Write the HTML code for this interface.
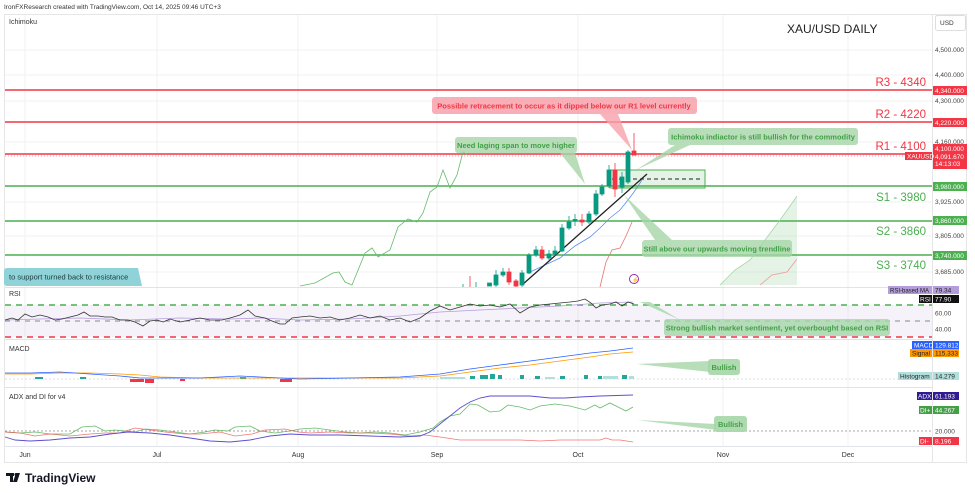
<!DOCTYPE html>
<html><head><meta charset="utf-8"><style>
html,body{margin:0;padding:0;background:#fff;}
svg{display:block;font-family:"Liberation Sans",sans-serif;}
</style></head><body>
<svg width="975" height="493" viewBox="0 0 975 493" xmlns="http://www.w3.org/2000/svg">
<rect width="975" height="493" fill="#fff"/>
<text x="4" y="9" font-size="6.5" fill="#333">IronFXResearch created with TradingView.com, Oct 14, 2025 09:46 UTC+3</text>
<rect x="4.5" y="14.5" width="962" height="448" fill="none" stroke="#e6e6e6"/>
<line x1="932.5" y1="14" x2="932.5" y2="462" stroke="#e6e6e6"/>
<g stroke="#f2f2f2" stroke-width="1">
<line x1="25" y1="15" x2="25" y2="446"/><line x1="157" y1="15" x2="157" y2="446"/>
<line x1="298" y1="15" x2="298" y2="446"/><line x1="437" y1="15" x2="437" y2="446"/>
<line x1="578" y1="15" x2="578" y2="446"/><line x1="723" y1="15" x2="723" y2="446"/>
<line x1="848" y1="15" x2="848" y2="446"/>
<line x1="5" y1="50" x2="932" y2="50"/><line x1="5" y1="75" x2="932" y2="75"/>
<line x1="5" y1="101" x2="932" y2="101"/><line x1="5" y1="142" x2="932" y2="142"/>
<line x1="5" y1="202" x2="932" y2="202"/><line x1="5" y1="236" x2="932" y2="236"/>
<line x1="5" y1="272" x2="932" y2="272"/>
</g>
<line x1="5" y1="287.5" x2="932" y2="287.5" stroke="#e0e3eb"/>
<line x1="5" y1="339.5" x2="932" y2="339.5" stroke="#e0e3eb"/>
<line x1="5" y1="387.5" x2="932" y2="387.5" stroke="#e0e3eb"/>
<line x1="5" y1="446.5" x2="932" y2="446.5" stroke="#e0e3eb"/>
<text x="9" y="24" font-size="7" fill="#333">Ichimoku</text>
<text x="787" y="33" font-size="12" fill="#222">XAU/USD DAILY</text>
<rect x="935.5" y="15.5" width="30" height="15" fill="#fff" stroke="#ddd" rx="2"/>
<text x="940" y="25" font-size="6.5" fill="#333">USD</text>
<g font-size="6.5" fill="#444">
<text x="935" y="52">4,500.000</text><text x="935" y="77">4,400.000</text>
<text x="935" y="103">4,300.000</text><text x="935" y="144">4,160.000</text>
<text x="935" y="204">3,925.000</text><text x="935" y="238">3,805.000</text>
<text x="935" y="274">3,685.000</text>
</g>
<g stroke-width="1.5">
<line x1="5" y1="90" x2="932" y2="90" stroke="#f23645"/>
<line x1="5" y1="122" x2="932" y2="122" stroke="#f23645"/>
<line x1="5" y1="154" x2="932" y2="154" stroke="#f23645"/>
<line x1="5" y1="186" x2="932" y2="186" stroke="#4caf50"/>
<line x1="5" y1="221" x2="932" y2="221" stroke="#4caf50"/>
<line x1="5" y1="255" x2="932" y2="255" stroke="#4caf50"/>
</g>
<line x1="5" y1="156" x2="932" y2="156" stroke="#f23645" stroke-dasharray="1 2" stroke-width="0.6"/>
<g font-size="11.5" text-anchor="end">
<text x="926" y="86" fill="#f23645">R3 - 4340</text>
<text x="926" y="118" fill="#f23645">R2 - 4220</text>
<text x="926" y="150" fill="#f23645">R1 - 4100</text>
<text x="926" y="201" fill="#4caf50">S1 - 3980</text>
<text x="926" y="235" fill="#4caf50">S2 - 3860</text>
<text x="926" y="269" fill="#4caf50">S3 - 3740</text>
</g>
<g font-size="6.5" fill="#fff">
<rect x="933" y="86" width="34" height="9" fill="#f23645"/><text x="935" y="93">4,340.000</text>
<rect x="933" y="118" width="34" height="9" fill="#f23645"/><text x="935" y="125">4,220.000</text>
<rect x="933" y="144" width="34" height="25" fill="#f23645"/><text x="935" y="151">4,100.000</text><text x="935" y="159">4,091.670</text><text x="935" y="166">14:13:03</text>
<rect x="905" y="152" width="27" height="8" fill="#f23645"/><text x="907" y="158.5">XAUUSD</text>
<rect x="933" y="182" width="34" height="9" fill="#4caf50"/><text x="935" y="189">3,980.000</text>
<rect x="933" y="216" width="34" height="9" fill="#4caf50"/><text x="935" y="223">3,860.000</text>
<rect x="933" y="251" width="34" height="9" fill="#4caf50"/><text x="935" y="258">3,740.000</text>
</g>
<polygon points="720,285 735,270 750,260 765,240 780,220 790,206 797,196 797,285" fill="#4caf50" opacity="0.15"/>
<polyline points="720,285 735,270 750,260 765,240 780,220 790,206 797,196" fill="none" stroke="#a5d6a7" stroke-width="0.8"/>
<polyline points="760,285 772,275 787,272 797,259" fill="none" stroke="#ef9a9a" stroke-width="0.8"/>
<polyline points="300,286 315,283 333,273 339,272 345,282 352,285 365,253 372,248 378,257 390,250 398,227 408,219 417,222 423,213 430,192 437,187 443,170 450,188 457,175 463,152 468,155" fill="none" stroke="#66bb6a" stroke-width="0.8"/>
<polyline points="600,287 606,262 612,250 620,248 626,236 632,222" fill="none" stroke="#e57373" stroke-width="0.8"/>
<polyline points="530,272 545,265 560,258 575,246 590,237 600,228 610,218 620,210 628,200 634,192 642,180" fill="none" stroke="#5b8def" stroke-width="0.8"/>
<rect x="610" y="170" width="95" height="18" fill="#4caf50" fill-opacity="0.15" stroke="#4caf50" stroke-width="1"/>
<line x1="612" y1="179" x2="703" y2="179" stroke="#222" stroke-dasharray="4 3"/>
<line x1="522" y1="285" x2="647" y2="174" stroke="#222" stroke-width="1.3"/>
<g stroke-width="0.8">
<g stroke="#089981" fill="#089981">
<line x1="463" y1="284" x2="463" y2="287"/><line x1="476" y1="282" x2="476" y2="287"/>
<rect x="487.5" y="283" width="4" height="3"/>
<line x1="496" y1="270" x2="496" y2="287"/><rect x="494" y="275" width="4" height="10"/>
<line x1="503" y1="268" x2="503" y2="277"/><rect x="501" y="272" width="4" height="3"/>
<line x1="522" y1="270" x2="522" y2="287"/><rect x="520" y="273" width="4" height="12"/>
<line x1="529" y1="253" x2="529" y2="274"/><rect x="527" y="255" width="4" height="18"/>
<line x1="536" y1="246" x2="536" y2="257"/><rect x="534" y="250" width="4" height="5"/>
<line x1="549" y1="250" x2="549" y2="260"/><rect x="547" y="254" width="4" height="4"/>
<line x1="555" y1="246" x2="555" y2="256"/><rect x="553" y="251" width="4" height="3"/>
<line x1="562" y1="224" x2="562" y2="252"/><rect x="560" y="228" width="4" height="23"/>
<line x1="569" y1="216" x2="569" y2="230"/><rect x="567" y="222" width="4" height="6"/>
<line x1="575" y1="214" x2="575" y2="226"/><rect x="573" y="219.5" width="4" height="1.5"/>
<line x1="589" y1="211" x2="589" y2="224"/><rect x="587" y="214" width="4" height="8"/>
<line x1="596" y1="190" x2="596" y2="216"/><rect x="594" y="194" width="4" height="20"/>
<line x1="602" y1="184" x2="602" y2="196"/><rect x="600" y="187" width="4" height="7"/>
<line x1="609" y1="165" x2="609" y2="188"/><rect x="607" y="170" width="4" height="16"/>
<line x1="622" y1="172" x2="622" y2="193"/><rect x="620" y="177" width="4" height="10"/>
<line x1="628" y1="150" x2="628" y2="184"/><rect x="626" y="152" width="4" height="30"/>
</g>
<g stroke="#f23645" fill="#f23645">
<line x1="470" y1="276" x2="470" y2="287"/>
<line x1="509" y1="268" x2="509" y2="285"/><rect x="507" y="272" width="4" height="10"/>
<line x1="516" y1="279" x2="516" y2="287"/><rect x="514" y="281" width="4" height="5"/>
<line x1="542" y1="246" x2="542" y2="260"/><rect x="540" y="250" width="4" height="8"/>
<line x1="582" y1="214" x2="582" y2="226"/><rect x="580" y="220" width="4" height="2"/>
<line x1="615" y1="163" x2="615" y2="197"/><rect x="613" y="170" width="4" height="19"/>
<line x1="634" y1="133" x2="634" y2="155"/><rect x="632" y="151" width="4" height="4"/>
</g>
</g>
<circle cx="634" cy="279" r="4.5" fill="none" stroke="#9c27b0" stroke-width="1"/>
<text x="631.5" y="282" font-size="6" fill="#9c27b0">⚡</text>
<polygon points="560,153 575,153 585,184" fill="#a5d6a7" opacity="0.8"/>
<rect x="455" y="137" width="122" height="16" rx="3" fill="#a5d6a7" opacity="0.8"/>
<text x="516" y="148" font-size="7.5" font-weight="bold" fill="#43a047" text-anchor="middle">Need laging span to move higher</text>
<polygon points="600,114 618,114 632,150" fill="#f7a1aa" opacity="0.8"/>
<rect x="432" y="97" width="265" height="17" rx="3" fill="#f7a1aa" opacity="0.85"/>
<text x="564" y="108.5" font-size="7.5" font-weight="bold" fill="#f23645" text-anchor="middle">Possible retracement to occur as it dipped below our R1 level currently</text>
<polygon points="675,145 690,145 636,170" fill="#a5d6a7" opacity="0.8"/>
<rect x="668" y="128" width="190" height="17" rx="3" fill="#a5d6a7" opacity="0.8"/>
<text x="763" y="139.5" font-size="7.5" font-weight="bold" fill="#43a047" text-anchor="middle">Ichimoku indiactor is still bullish for the commodity</text>
<polygon points="655,240 672,240 624,195" fill="#a5d6a7" opacity="0.8"/>
<rect x="642" y="240" width="150" height="17" rx="3" fill="#a5d6a7" opacity="0.8"/>
<text x="717" y="251.5" font-size="7.5" font-weight="bold" fill="#43a047" text-anchor="middle">Still above our upwards moving trendline</text>
<rect x="4" y="268" width="134" height="18" rx="3" fill="#8fd3d8"/>
<polygon points="130,268 138,268 142,286 130,286" fill="#8fd3d8"/>
<text x="9" y="279.5" font-size="7.5" fill="#1a3a40">to support turned back to resistance</text>
<text x="9" y="296" font-size="7" fill="#333">RSI</text>
<rect x="5" y="305" width="927" height="32" fill="#7e57c2" opacity="0.08"/>
<line x1="5" y1="305" x2="932" y2="305" stroke="#4caf50" stroke-width="1.5" stroke-dasharray="6 5"/>
<line x1="5" y1="321" x2="932" y2="321" stroke="#888" stroke-width="1" stroke-dasharray="5 5"/>
<line x1="5" y1="337" x2="932" y2="337" stroke="#f23645" stroke-width="1.5" stroke-dasharray="6 5"/>
<polyline points="5,320 40,319 80,318 130,320 180,318 230,319 260,318 300,320 350,319 400,316 440,312 480,310 520,308 560,306 600,303 633,302" fill="none" stroke="#b39ddb" stroke-width="0.8"/>
<polyline points="5,320 12,318 18,320 25,314 32,317 40,315 48,317 55,320 62,319 70,317 78,315 84,312 90,316 98,316 105,317 112,317 120,320 128,320 135,322 143,326 150,321 157,320 163,322 170,319 180,322 190,320 200,318 210,320 222,320 230,318 240,315 248,310 255,316 265,318 272,321 280,324 285,324 292,318 300,317 310,316 320,318 330,317 340,320 350,318 360,315 370,318 380,316 390,320 400,318 410,322 420,318 430,311 440,306 450,310 460,307 470,304 480,306 490,305 500,307 510,304 520,313 530,307 540,305 550,304 560,303 570,302 578,301 585,299 591,303 596,308 602,305 610,304 616,302 622,306 628,302 634,304" fill="none" stroke="#333" stroke-width="0.8"/>
<g font-size="6.5">
<rect x="888" y="286" width="44" height="8" fill="#b39ddb"/><text x="890" y="292.5" fill="#222" font-size="6">RSI-based MA</text>
<rect x="933" y="286" width="26" height="8" fill="#b39ddb"/><text x="935" y="292.5" fill="#222">79.34</text>
<rect x="919" y="295" width="13" height="8" fill="#111"/><text x="920" y="301.5" fill="#fff">RSI</text>
<rect x="933" y="295" width="26" height="8" fill="#111"/><text x="935" y="301.5" fill="#fff">77.90</text>
<text x="935" y="315.5" fill="#444">60.00</text><text x="935" y="331.5" fill="#444">40.00</text>
</g>
<polygon points="640,302 650,302 680,320" fill="#a5d6a7" opacity="0.8"/>
<rect x="664" y="319" width="226" height="17" rx="3" fill="#a5d6a7" opacity="0.8"/>
<text x="777" y="330.5" font-size="7.5" font-weight="bold" fill="#43a047" text-anchor="middle">Strong bullish market sentiment, yet overbought based on RSI</text>
<text x="9" y="351" font-size="7" fill="#333">MACD</text>
<line x1="5" y1="379" x2="932" y2="379" stroke="#bbb" stroke-dasharray="2 2" stroke-width="0.6"/>
<g fill="#f23645">
<rect x="130" y="379" width="14" height="3"/><rect x="145" y="379" width="9" height="4"/><rect x="180" y="379" width="5" height="2"/><rect x="280" y="379" width="12" height="3" /></g>
<g fill="#26a69a"><rect x="35" y="377" width="8" height="2"/><rect x="80" y="377" width="6" height="2"/><rect x="240" y="377" width="6" height="2"/>
<rect x="470" y="376" width="5" height="3"/><rect x="480" y="375" width="8" height="4"/><rect x="490" y="374" width="5" height="5"/><rect x="498" y="375" width="4" height="4"/><rect x="520" y="375" width="4" height="4"/><rect x="535" y="376" width="5" height="3"/><rect x="560" y="376" width="5" height="3"/><rect x="584" y="375" width="4" height="4"/><rect x="598" y="376" width="4" height="3"/><rect x="622" y="375" width="5" height="4"/></g>
<g fill="#b2dfdb"><rect x="440" y="377" width="25" height="2"/><rect x="545" y="377" width="10" height="2"/><rect x="603" y="376" width="15" height="3"/><rect x="629" y="376" width="5" height="3"/></g>
<polyline points="5,374 30,374 60,373 90,373 120,374 140,375 160,377 200,378 250,378 300,378 350,378 400,378 440,376 470,372 500,368 530,365 560,361 590,357 610,354 633,352" fill="none" stroke="#ff9800" stroke-width="0.8"/>
<polyline points="5,373 30,373 60,372 90,374 120,376 140,378 160,378 200,378 240,376 260,377 300,379 350,378 400,377 440,374 470,369 500,365 530,361 560,357 590,353 610,351 633,348" fill="none" stroke="#2962ff" stroke-width="0.8"/>
<g font-size="6.5">
<rect x="912" y="341" width="20" height="8" fill="#2962ff"/><text x="914" y="347.5" fill="#fff">MACD</text>
<rect x="933" y="341" width="26" height="8" fill="#2962ff"/><text x="935" y="347.5" fill="#fff">129.812</text>
<rect x="910" y="349" width="22" height="8" fill="#ff9800"/><text x="912" y="355.5" fill="#222">Signal</text>
<rect x="933" y="349" width="26" height="8" fill="#ff9800"/><text x="935" y="355.5" fill="#222">115.333</text>
<rect x="898" y="372" width="34" height="8" fill="#b2dfdb"/><text x="900" y="378.5" fill="#222">Histogram</text>
<rect x="933" y="372" width="26" height="8" fill="#b2dfdb"/><text x="935" y="378.5" fill="#222">14.279</text>
</g>
<polygon points="637,364 710,361 710,372" fill="#a5d6a7" opacity="0.8"/>
<rect x="708" y="359" width="32" height="16" rx="3" fill="#a5d6a7" opacity="0.9"/>
<text x="724" y="370" font-size="7.5" font-weight="bold" fill="#43a047" text-anchor="middle">Bullish</text>
<text x="9" y="399" font-size="7" fill="#333">ADX and DI for v4</text>
<line x1="5" y1="431" x2="932" y2="431" stroke="#888" stroke-dasharray="2 2" stroke-width="0.7"/>
<polyline points="5,432 20,433 35,432 50,434 70,434 82,427 95,426 105,431 115,430 135,432 145,429 160,430 175,432 190,434 205,432 215,430 228,431 235,427 250,426 260,431 275,433 290,431 300,429 315,428 330,430 345,432 360,433 375,432 390,433 405,435 420,432 433,428 440,422 450,416 460,414 470,404 478,405 490,412 500,411 508,405 520,407 530,410 540,406 555,404 570,406 585,410 595,405 600,408 610,403 620,408 626,411 633,407" fill="none" stroke="#66bb6a" stroke-width="0.8"/>
<polyline points="5,432 20,433 35,436 50,434 70,436 90,434 105,433 120,433 135,428 150,430 165,432 185,434 200,434 220,432 235,436 252,434 265,430 285,429 298,432 310,433 330,432 350,433 370,433 390,434 410,436 425,435 440,437 460,440 480,440 500,440 520,440 540,441 560,440 580,440 600,440 606,438 612,440 620,440 633,442" fill="none" stroke="#ef5350" stroke-width="0.8" opacity="0.8"/>
<polyline points="5,437 15,440 30,441 50,440 70,438 90,437 110,434 128,432 150,433 170,435 190,438 210,441 230,442 250,440 270,436 290,434 310,435 340,435 370,436 400,437 420,436 430,432 440,424 450,416 460,408 470,402 480,398 490,396 510,396 530,396 550,398 565,398 580,397 600,396 633,395" fill="none" stroke="#5c4fcf" stroke-width="0.9"/>
<g font-size="6.5">
<rect x="917" y="392" width="15" height="8" fill="#311b92"/><text x="918" y="398.5" fill="#fff">ADX</text>
<rect x="933" y="392" width="26" height="8" fill="#311b92"/><text x="935" y="398.5" fill="#fff">61.193</text>
<rect x="919" y="406" width="13" height="8" fill="#43a047"/><text x="920" y="412.5" fill="#fff">DI+</text>
<rect x="933" y="406" width="26" height="8" fill="#43a047"/><text x="935" y="412.5" fill="#fff">44.267</text>
<text x="935" y="433.5" fill="#444">20.000</text>
<rect x="919" y="437" width="13" height="8" fill="#f23645"/><text x="920" y="443.5" fill="#fff">DI-</text>
<rect x="933" y="437" width="26" height="8" fill="#f23645"/><text x="935" y="443.5" fill="#fff">8.196</text>
</g>
<polygon points="637,420 716,424 716,430" fill="#a5d6a7" opacity="0.8"/>
<rect x="714" y="416" width="33" height="16" rx="3" fill="#a5d6a7" opacity="0.9"/>
<text x="730.5" y="427" font-size="7.5" font-weight="bold" fill="#43a047" text-anchor="middle">Bullish</text>
<g font-size="7" fill="#333" text-anchor="middle">
<text x="25" y="457">Jun</text><text x="157" y="457">Jul</text><text x="298" y="457">Aug</text>
<text x="437" y="457">Sep</text><text x="578" y="457">Oct</text><text x="723" y="457">Nov</text><text x="848" y="457">Dec</text>
</g>
<g fill="#131722">
<rect x="6" y="473" width="8" height="3"/><rect x="10" y="473" width="3" height="9"/>
<polygon points="16,473 20,473 17,482 13,482" /><circle cx="16" cy="474.5" r="1.5"/>
</g>
<text x="25" y="482" font-size="12" font-weight="bold" fill="#131722">TradingView</text>
</svg>
</body></html>
